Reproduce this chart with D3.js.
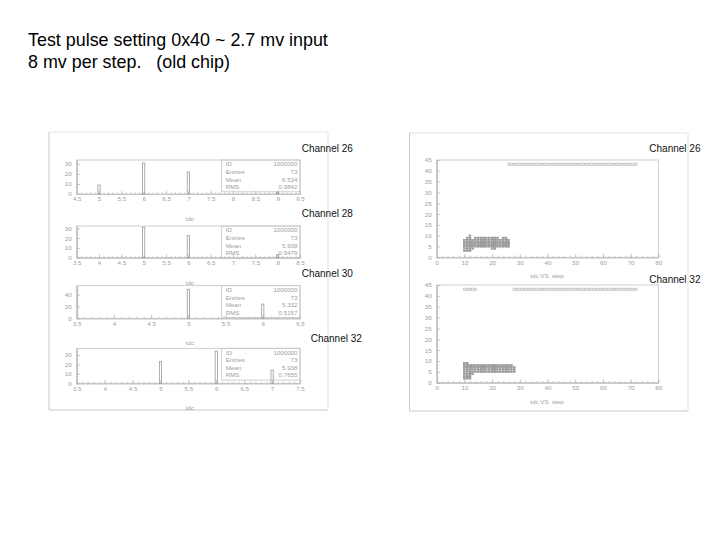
<!DOCTYPE html>
<html><head><meta charset="utf-8">
<script src="https://cdn.jsdelivr.net/npm/d3@7"></script>
<style>body{margin:0;background:#fff}svg{display:block}</style>
</head><body>
<svg id="c" width="720" height="540"></svg>
<script>
// ---------------- data ----------------
const titleLines = ["Test pulse setting 0x40 ~ 2.7 mv input", "8 mv per step.   (old chip)"];
const leftChannels = ["Channel 26", "Channel 28", "Channel 30", "Channel 32"];
const rightChannels = ["Channel 26", "Channel 32"];
const statNames = ["ID", "Entries", "Mean", "RMS"];

// tdc histograms (bin centre, count)
const h26Bins = [5, 6, 7, 9];
const h26Counts = [9, 31, 22, 2];
const h28Bins = [5, 6, 8];
const h28Counts = [31, 22.5, 3];
const h30Bins = [5, 6];
const h30Counts = [49, 24];
const h32Bins = [5, 6, 7];
const h32Counts = [23, 34, 14];

const h26Stats = ["1000000", "73", "6.534", "0.9842"];
const h28Stats = ["1000000", "73", "5.938", "0.9479"];
const h30Stats = ["1000000", "73", "5.332", "0.5157"];
const h32Stats = ["1000000", "73", "5.938", "0.7655"];

const h26XTicks = [4.5, 5, 5.5, 6, 6.5, 7, 7.5, 8, 8.5, 9, 9.5];
const h28XTicks = [3.5, 4, 4.5, 5, 5.5, 6, 6.5, 7, 7.5, 8, 8.5];
const h30XTicks = [3.5, 4, 4.5, 5, 5.5, 6, 6.5];
const h32XTicks = [3.5, 4, 4.5, 5, 5.5, 6, 6.5, 7, 7.5];
const h26YTicks = [0, 10, 20, 30];
const h28YTicks = [0, 10, 20, 30];
const h30YTicks = [0, 20, 40];
const h32YTicks = [0, 10, 20, 30];

// tdc vs step (2D) : filled cells per step, and the overflow row
const s26Steps = [10, 11, 12, 13, 14, 15, 16, 17, 18, 19, 20, 21, 22, 23, 24, 25, 26];
const s26Cells = [
  [3,4,5,6,7,8], [3,4,5,6,7,8,9], [3,4,5,6,7,8,9,10], [4,5,6,7,8], [5,6,7,8,9],
  [5,6,7,8,9], [5,6,7,8,9], [5,6,7,8,9], [5,6,7,8,9], [5,6,7,8,9],
  [4,5,6,7,8,9], [4,5,6,7,8,9], [5,6,7,8,9], [5,6,7,8], [5,6,7,8,9], [5,6,7,8,9], [5,6,7,8]
];
const s26TopSteps = [26,27,28,29,30,31,32,33,34,35,36,37,38,39,40,41,42,43,44,45,46,47,48,49,
  50,51,52,53,54,55,56,57,58,59,60,61,62,63,64,65,66,67,68,69,70,71,72];
const s32Steps = [10, 11, 12, 13, 14, 15, 16, 17, 18, 19, 20, 21, 22, 23, 24, 25, 26, 27, 28];
const s32Cells = [
  [2,3,4,5,6,7,8,9], [2,3,4,5,6,7,8,9], [2,3,4,5,6,7,8], [4,5,6,7,8], [5,6,7,8],
  [5,6,7,8], [5,6,7,8], [5,6,7,8], [5,6,7,8], [5,6,7,8],
  [5,6,7,8], [5,6,7,8], [5,6,7,8], [5,6,7,8], [5,6,7,8], [5,6,7,8], [5,6,7,8], [5,6,7,8], [5,6,7]
];
const s32TopSteps = [10,11,12,13,14, 28,29,30,31,32,33,34,35,36,37,38,39,40,41,42,43,44,45,46,47,48,49,
  50,51,52,53,54,55,56,57,58,59,60,61,62,63,64,65,66,67,68,69,70,71,72];
const topValue = 43;
const s2dXTicks = [0, 10, 20, 30, 40, 50, 60, 70, 80];
const s2dYTicks = [0, 5, 10, 15, 20, 25, 30, 35, 40, 45];

// ---------------- drawing ----------------
const svg = d3.select("#c");
const FONT = "Liberation Sans, Arial, Helvetica, sans-serif";
const small = "#a0a0a0", lineC = "#c4c4c4";

svg.append("text").attr("x", 28).attr("y", 46).attr("font-family", FONT).attr("font-size", 17.9)
  .attr("fill", "#000").text(titleLines[0]);
svg.append("text").attr("x", 28).attr("y", 68.3).attr("font-family", FONT).attr("font-size", 17.9)
  .attr("fill", "#000").attr("xml:space", "preserve").style("white-space", "pre").text(titleLines[1]);

// panels
function panel(x0, y0, x1, y1) {
  svg.append("line").attr("x1", x0).attr("x2", x1).attr("y1", y0).attr("y2", y0).attr("stroke", "#e4e4e4");
  svg.append("line").attr("x1", x1).attr("x2", x1).attr("y1", y0).attr("y2", y1).attr("stroke", "#e4e4e4");
  svg.append("line").attr("x1", x0).attr("x2", x0).attr("y1", y0).attr("y2", y1).attr("stroke", "#c8c8c8");
  svg.append("line").attr("x1", x0).attr("x2", x1).attr("y1", y1).attr("y2", y1).attr("stroke", "#c8c8c8");
}
panel(49, 132, 328, 410);
panel(409.5, 133, 688, 411);

function axes(g, x, y, xt, yt, xMinorStep, yMinorStep, fmtX) {
  const [r0, r1] = x.range(), [b, t] = y.range();
  const d = x.domain(), dy = y.domain();
  g.append("rect").attr("x", r0).attr("y", t).attr("width", r1 - r0).attr("height", b - t)
    .attr("fill", "none").attr("stroke", lineC).attr("stroke-width", 0.8);
  const xm = d3.range(Math.ceil(d[0] / xMinorStep - 1e-6) * xMinorStep, d[1] + 1e-6, xMinorStep);
  const ym = d3.range(0, dy[1] + 1e-6, yMinorStep);
  const gx = g.append("g").attr("transform", `translate(0,${b})`)
    .call(d3.axisBottom(x).tickValues(xm).tickSize(-1.6).tickFormat(""));
  const gx2 = g.append("g").attr("transform", `translate(0,${b})`)
    .call(d3.axisBottom(x).tickValues(xt).tickSizeInner(-3.5).tickSizeOuter(0).tickPadding(3).tickFormat(fmtX));
  const gy = g.append("g").attr("transform", `translate(${r0},0)`)
    .call(d3.axisLeft(y).tickValues(ym).tickSize(-1.6).tickFormat(""));
  const gy2 = g.append("g").attr("transform", `translate(${r0},0)`)
    .call(d3.axisLeft(y).tickValues(yt).tickSizeInner(-3.5).tickSizeOuter(0).tickPadding(5).tickFormat(d3.format("d")));
  [gx, gx2, gy, gy2].forEach(a => {
    a.select(".domain").attr("stroke", lineC);
    a.selectAll(".tick line").attr("stroke", "#b4b4b4").attr("stroke-width", 0.7);
    a.selectAll("text").attr("fill", small).attr("font-size", 6.2).attr("font-family", FONT);
  });
}

// left histograms
const hx0 = 76.7, hx1 = 300;
const hists = [
  {bins: h26Bins, counts: h26Counts, stats: h26Stats, xt: h26XTicks, yt: h26YTicks, top: 160, bot: 194, ymax: 34, label: leftChannels[0], lx: 301.7, ly: 152.3},
  {bins: h28Bins, counts: h28Counts, stats: h28Stats, xt: h28XTicks, yt: h28YTicks, top: 226, bot: 257.7, ymax: 32.3, label: leftChannels[1], lx: 301.7, ly: 216.7},
  {bins: h30Bins, counts: h30Counts, stats: h30Stats, xt: h30XTicks, yt: h30YTicks, top: 285.7, bot: 318.3, ymax: 55, label: leftChannels[2], lx: 301.7, ly: 277.3},
  {bins: h32Bins, counts: h32Counts, stats: h32Stats, xt: h32XTicks, yt: h32YTicks, top: 348.3, bot: 383.3, ymax: 37, label: leftChannels[3], lx: 310.7, ly: 341.7}
];
hists.forEach(h => {
  const g = svg.append("g");
  const x = d3.scaleLinear().domain([h.xt[0], h.xt[h.xt.length - 1]]).range([hx0, hx1]);
  const y = d3.scaleLinear().domain([0, h.ymax]).range([h.bot, h.top]);
  axes(g, x, y, h.xt, h.yt, 0.1, 2, v => String(v));
  // stats box (transparent, drawn beneath bars)
  const sx0 = 221.7, sx1 = hx1, sh = 31.8;
  g.append("rect").attr("x", sx0).attr("y", h.top).attr("width", sx1 - sx0).attr("height", sh)
    .attr("fill", "none").attr("stroke", lineC).attr("stroke-width", 0.8);
  statNames.forEach((n, i) => {
    const yy = h.top + 6.3 + i * 7.6;
    g.append("text").attr("x", sx0 + 4).attr("y", yy).attr("font-size", 6.2).attr("font-family", FONT)
      .attr("fill", small).text(n);
    g.append("text").attr("x", sx1 - 2.5).attr("y", yy).attr("text-anchor", "end").attr("font-size", 6.2)
      .attr("font-family", FONT).attr("fill", small).text(h.stats[i]);
  });
  // bars (outlined)
  const bw = 2.2;
  g.selectAll("rect.bar").data(h.bins).join("rect").attr("class", "bar")
    .attr("x", (d) => x(d) - bw / 2).attr("width", bw)
    .attr("y", (d, i) => y(h.counts[i])).attr("height", (d, i) => y(0) - y(h.counts[i]))
    .attr("fill", "none").attr("stroke", "#9a9a9a").attr("stroke-width", 0.8);
  g.append("text").attr("x", 190).attr("y", h.bot + 27).attr("text-anchor", "middle").attr("font-size", 6.2)
    .attr("font-family", FONT).attr("fill", small).text("tdc");
  svg.append("text").attr("x", h.lx).attr("y", h.ly).attr("font-size", 10).attr("font-family", FONT)
    .attr("fill", "#111").text(h.label);
});

// right 2D plots
const sx0 = 436.7, sx1 = 658.3;
const scat = [
  {steps: s26Steps, cells: s26Cells, topSteps: s26TopSteps, top: 160, bot: 257.3, label: rightChannels[0], lx: 649.3, ly: 151.7},
  {steps: s32Steps, cells: s32Cells, topSteps: s32TopSteps, top: 285, bot: 382.7, label: rightChannels[1], lx: 649.3, ly: 282.7}
];
scat.forEach(p => {
  const g = svg.append("g");
  const x = d3.scaleLinear().domain([0, 80]).range([sx0, sx1]);
  const y = d3.scaleLinear().domain([0, 45]).range([p.bot, p.top]);
  axes(g, x, y, s2dXTicks, s2dYTicks, 2, 1, d3.format("d"));
  const cells = [];
  p.steps.forEach((s, i) => p.cells[i].forEach(v => cells.push([s, v])));
  const cw = (x(1) - x(0)) * 0.78, ch = (y(0) - y(1)) * 0.74;
  g.selectAll("rect.cell").data(cells).join("rect").attr("class", "cell")
    .attr("x", d => x(d[0]) - cw / 2).attr("y", d => y(d[1]) - ch / 2)
    .attr("width", cw).attr("height", ch)
    .attr("fill", "#a2a2a2").attr("stroke", "#6a6a6a").attr("stroke-width", 0.3);
  g.selectAll("circle.top").data(p.topSteps).join("circle").attr("class", "top")
    .attr("cx", d => x(d)).attr("cy", y(topValue)).attr("r", 1.25)
    .attr("fill", "none").attr("stroke", "#9c9c9c").attr("stroke-width", 0.6);
  g.append("text").attr("x", 547).attr("y", p.bot + 21).attr("text-anchor", "middle").attr("font-size", 6.2)
    .attr("font-family", FONT).attr("fill", small).text("tdc VS. step");
  svg.append("text").attr("x", p.lx).attr("y", p.ly).attr("font-size", 10).attr("font-family", FONT)
    .attr("fill", "#111").text(p.label);
});
</script>
</body></html>
